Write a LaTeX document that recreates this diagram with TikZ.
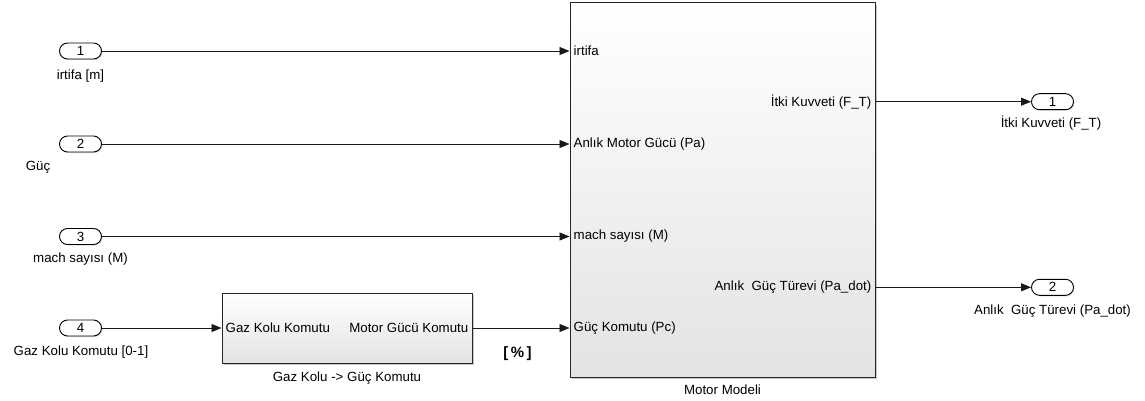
\documentclass[tikz,border=0pt]{standalone}
\usepackage{fontspec}
\setmainfont{Liberation Sans}
\usetikzlibrary{arrows.meta,shadows,shadings}
\begin{document}
\begin{tikzpicture}[x=1pt,y=-1pt,
  every node/.style={font=\fontsize{13.3}{15}\selectfont, inner sep=0pt, text=black},
  port/.style={draw=black, line width=0.9pt, rounded corners=8pt, minimum width=42pt, minimum height=16pt, fill=white,
    drop shadow={shadow xshift=1pt, shadow yshift=-1pt, fill=gray!50, opacity=0.6}},
  blk/.style={draw=black!85, line width=1pt, top color=white, bottom color=gray!22,
    drop shadow={shadow xshift=2pt, shadow yshift=-2pt, fill=gray!60, opacity=0.7}},
  wire/.style={line width=0.8pt, draw=black!90, -{Triangle[length=10pt,width=8pt]}}
]
\useasboundingbox (0,0) rectangle (1145,401);

% inports
\node[port] (in1) at (80.5,51) {1};
\node[port] (in2) at (80.5,144) {2};
\node[port] (in3) at (80.5,236.5) {3};
\node[port] (in4) at (80.5,328) {4};
\node (l1) at (80.5,76) {irtifa [m]};
\node (l2) at (38,167) {Güç};
\node (l3) at (80.5,259.5) {mach sayısı (M)};
\node (l4) at (81,352) {Gaz Kolu Komutu [0-1]};

% gaz kolu block
\node[blk, minimum width=250pt, minimum height=70pt] (gaz) at (347,328) {};
\node[anchor=west] (gin) at ([xshift=4pt]gaz.west) {Gaz Kolu Komutu};
\node[anchor=east] (gout) at ([xshift=-4pt]gaz.east) {Motor Gücü Komutu};
\node (gname) at (347,378) {Gaz Kolu -> Güç Komutu};
\node (pct) at (517.5,354) {\fontsize{15}{17}\selectfont\bfseries [\,\%\,]};

% motor block
\node[blk, minimum width=305pt, minimum height=374pt] (motor) at (722.5,190) {};
\node (mname) at (722.5,390) {Motor Modeli};
\coordinate (mi1) at (motor.west |- in1);
\coordinate (mi2) at (motor.west |- in2);
\coordinate (mi3) at (motor.west |- in3);
\coordinate (mi4) at (motor.west |- in4);
\node[anchor=west] (p1) at ([xshift=4pt]mi1) {irtifa};
\node[anchor=west] (p2) at ([xshift=4pt]mi2) {Anlık Motor Gücü (Pa)};
\node[anchor=west] (p3) at ([xshift=4pt]mi3) {mach sayısı (M)};
\node[anchor=west] (p4) at ([xshift=4pt]mi4) {Güç Komutu (Pc)};

% outports
\node[port] (o1) at (1052.5,101.7) {1};
\node[port] (o2) at (1052.5,287.3) {2};
\node (ol1) at (1051,123.5) {İtki Kuvveti (F\_T)};
\node (ol2) at (1052.5,311.5) {Anlık\ \ Güç Türevi (Pa\_dot)};
\coordinate (mo1) at (motor.east |- o1);
\coordinate (mo2) at (motor.east |- o2);
\node[anchor=east] (q1) at ([xshift=-4pt]mo1) {İtki Kuvveti (F\_T)};
\node[anchor=east] (q2) at ([xshift=-4pt]mo2) {Anlık\ \ Güç Türevi (Pa\_dot)};

% wires
\draw[wire] (in1.east) -- (mi1);
\draw[wire] (in2.east) -- (mi2);
\draw[wire] (in3.east) -- (mi3);
\draw[wire] (in4.east) -- (gaz.west);
\draw[wire] (gaz.east) -- (mi4);
\draw[wire] (mo1) -- (o1.west);
\draw[wire] (mo2) -- (o2.west);
\end{tikzpicture}
\end{document}
